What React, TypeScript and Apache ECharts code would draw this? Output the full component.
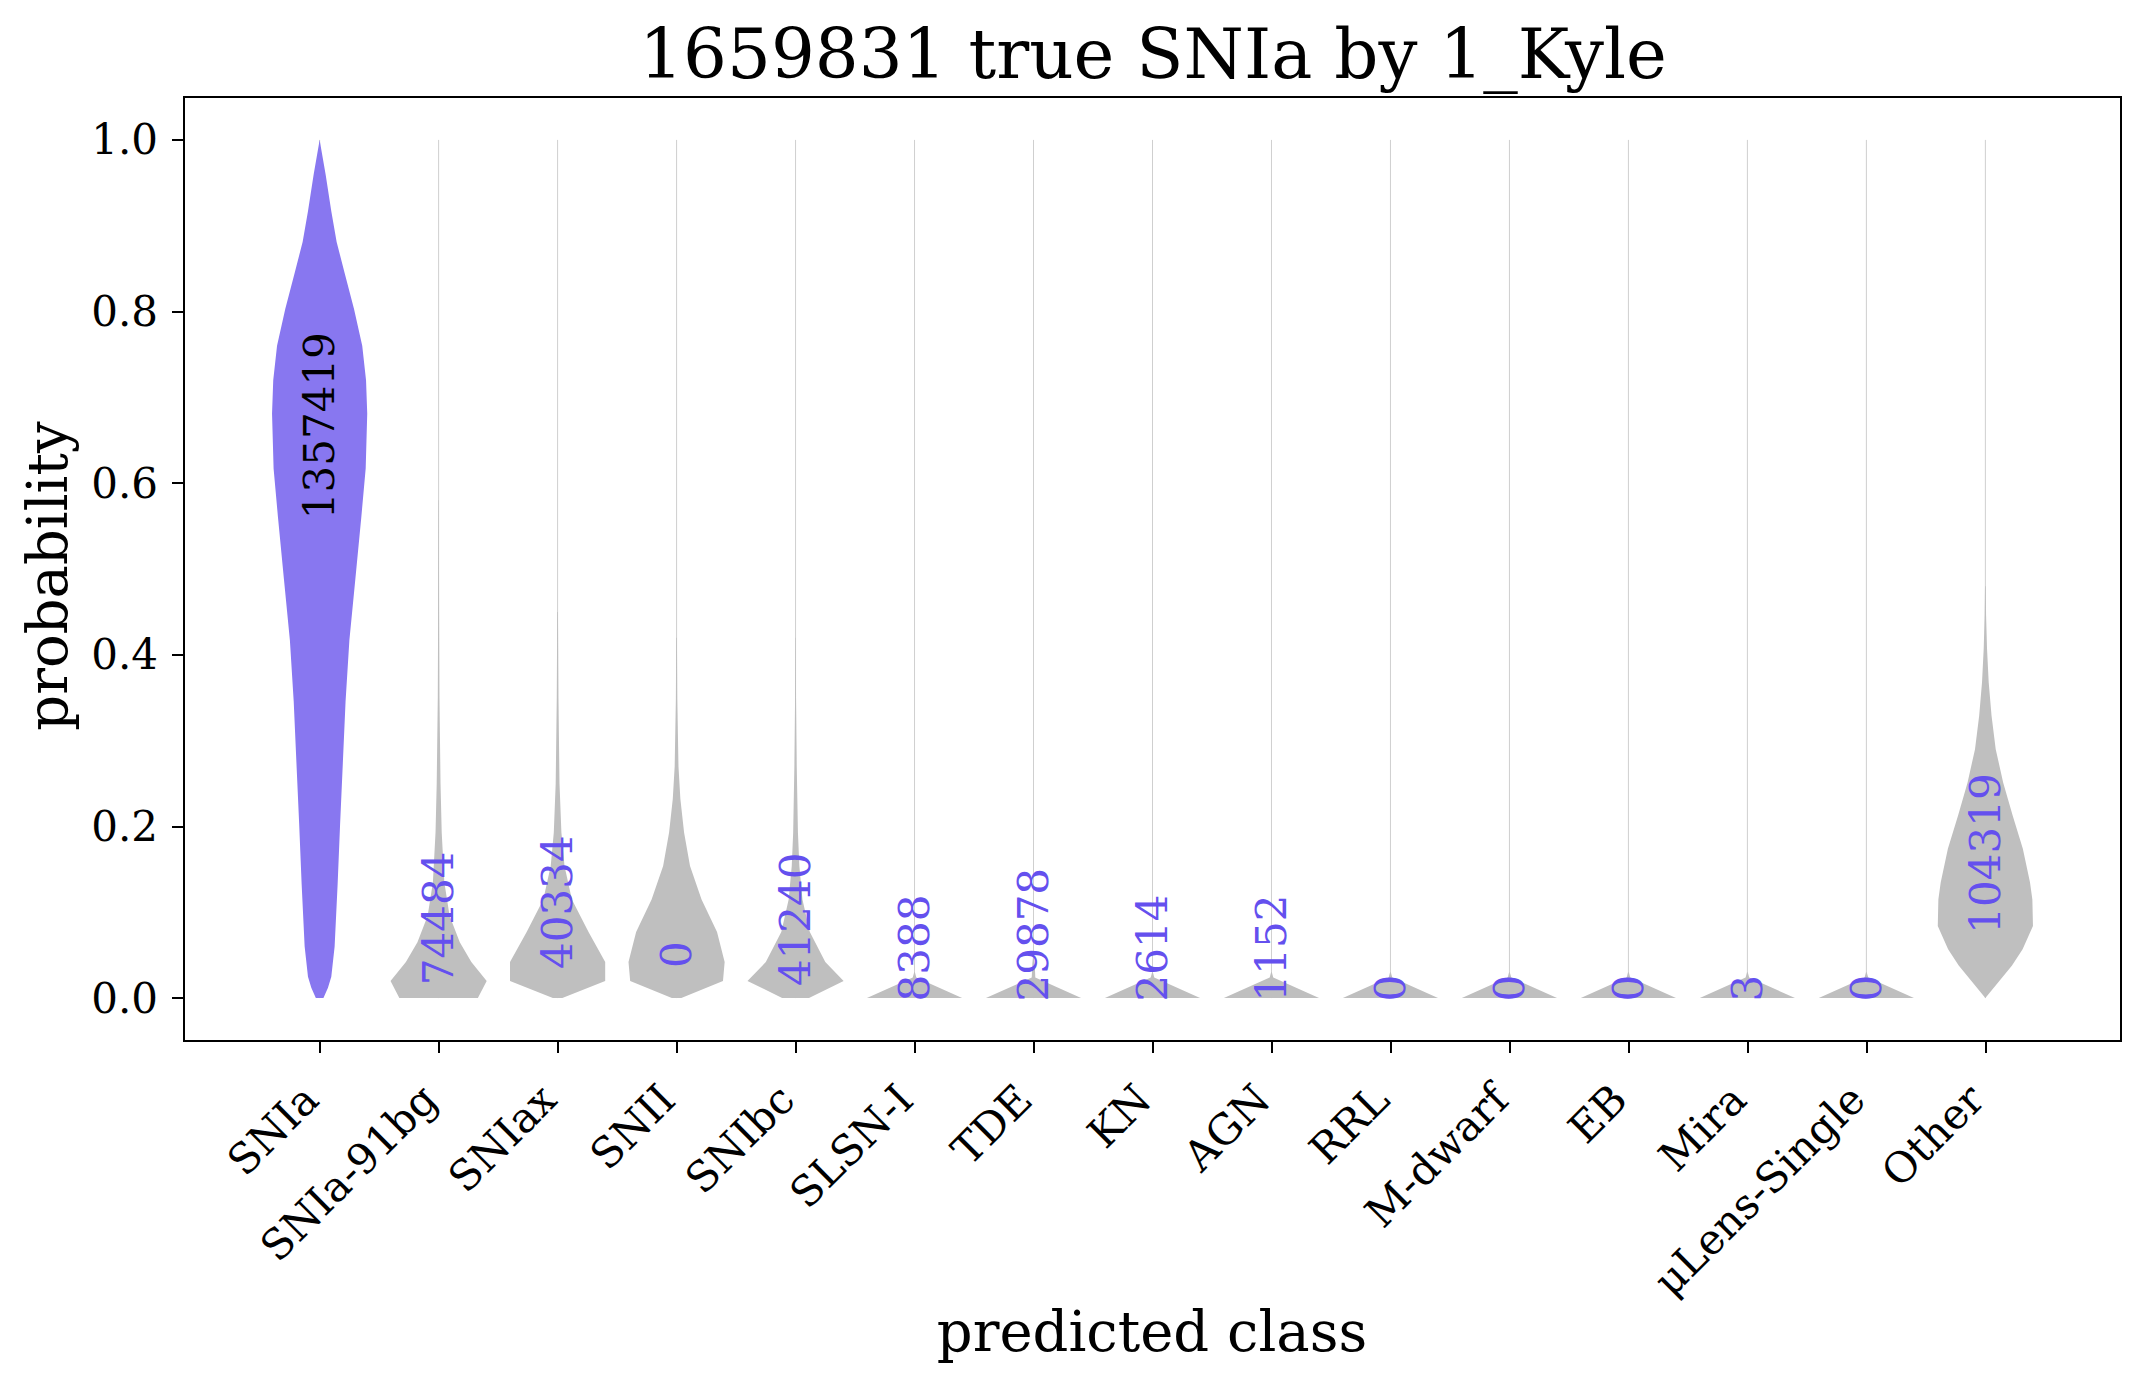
import React, { useEffect, useRef } from "react";
import * as echarts from "echarts";

// ---- data ----
const categories = [
  "SNIa", "SNIa-91bg", "SNIax", "SNII", "SNIbc", "SLSN-I", "TDE", "KN",
  "AGN", "RRL", "M-dwarf", "EB", "Mira", "μLens-Single", "Other",
];
const counts = [1357419, 74484, 40334, 0, 41240, 8388, 29878, 2614, 1152, 0, 0, 0, 3, 0, 104319];
// probability at which each count label starts (text runs upward)
const labelStart = [0.558, 0.015, 0.034, 0.035, 0.014, -0.004, -0.004, -0.004, -0.004, -0.004, -0.004, -0.004, -0.004, -0.004, 0.075];
const yTicks = [0, 0.2, 0.4, 0.6, 0.8, 1.0];
const trueClassIndex = 0;

// violin half-widths (in category units) at probability levels: [probability, halfWidth]
const violinSNIa = [
  [0, 0.032], [0.012, 0.07], [0.025, 0.098], [0.06, 0.126], [0.132, 0.151], [0.203, 0.172],
  [0.274, 0.195], [0.346, 0.218], [0.417, 0.25], [0.488, 0.3], [0.56, 0.35], [0.617, 0.387],
  [0.681, 0.4], [0.72, 0.39], [0.76, 0.358], [0.803, 0.289], [0.845, 0.21], [0.881, 0.143],
  [0.917, 0.098], [0.96, 0.05], [1.0, 0],
];
const violin91bg = [
  [0, 0.33], [0.02, 0.404], [0.042, 0.275], [0.065, 0.178], [0.096, 0.092], [0.135, 0.048],
  [0.193, 0.026], [0.25, 0.016], [0.35, 0.007], [0.45, 0.004], [0.58, 0.002],
];
const violinSNIax = [
  [0, 0.04], [0.02, 0.4], [0.042, 0.4], [0.077, 0.26], [0.115, 0.12], [0.154, 0.058],
  [0.193, 0.032], [0.25, 0.016], [0.35, 0.007], [0.45, 0.003],
];
const violinSNII = [
  [0, 0.04], [0.02, 0.39], [0.042, 0.404], [0.077, 0.34], [0.115, 0.21], [0.154, 0.113],
  [0.193, 0.063], [0.232, 0.032], [0.27, 0.016], [0.348, 0.006], [0.42, 0.003],
];
const violinSNIbc = [
  [0, 0.113], [0.02, 0.404], [0.042, 0.25], [0.077, 0.12], [0.115, 0.058], [0.154, 0.032],
  [0.193, 0.02], [0.27, 0.01], [0.35, 0.004], [0.42, 0.002],
];
const violinTiny = [[0, 0.4], [0.024, 0.015], [0.03, 0.003]];
const violinTDE = [[0, 0.4], [0.024, 0.015], [0.04, 0.01], [0.05, 0.003]];
const violinOther = [
  [0, 0], [0.038, 0.224], [0.057, 0.313], [0.084, 0.4], [0.115, 0.395], [0.135, 0.375],
  [0.174, 0.315], [0.2125, 0.23], [0.251, 0.15], [0.29, 0.087], [0.329, 0.052], [0.368, 0.028],
  [0.407, 0.014], [0.446, 0.006], [0.48, 0.003],
];
const violins = [
  violinSNIa, violin91bg, violinSNIax, violinSNII, violinSNIbc, violinTiny, violinTDE,
  violinTiny, violinTiny, violinTiny, violinTiny, violinTiny, violinTiny, violinTiny, violinOther,
];

// ---- styles ----
const FONT = '"DejaVu Serif", "Liberation Serif", serif';
const trueColor = "#8877f0";
const otherColor = "#bfbfbf";
const countColor = "#6450ee";
const tailColor = "#cfcfcf";

export default function App() {
  const ref = useRef<HTMLDivElement>(null);

  useEffect(() => {
    document.body.style.margin = "0";
    const chart = echarts.init(ref.current!, undefined, { renderer: "svg" });
    const idx = categories.map((_, i) => [i, 0]);

    chart.setOption({
      animation: false,
      backgroundColor: "#ffffff",
      grid: {
        left: 184,
        right: 25,
        top: 97,
        bottom: 345,
        show: true,
        borderColor: "#000",
        borderWidth: 2,
        backgroundColor: "transparent",
        outerBoundsMode: "none",
      },
      xAxis: {
        type: "value",
        min: -1.14,
        max: 15.14,
        axisLine: { show: false, onZero: false },
        splitLine: { show: false },
        axisLabel: { show: false },
        axisTick: {
          show: true,
          customValues: categories.map((_, i) => i),
          length: 12,
          lineStyle: { color: "#000", width: 2 },
        },
      },
      yAxis: {
        type: "value",
        min: -0.05,
        max: 1.05,
        axisLine: { show: false, onZero: false },
        splitLine: { show: false },
        axisTick: {
          show: true,
          customValues: yTicks,
          length: 12,
          lineStyle: { color: "#000", width: 2 },
        },
        axisLabel: {
          customValues: yTicks,
          formatter: (v: number) => v.toFixed(1),
          fontFamily: FONT,
          fontSize: 42,
          color: "#000",
          margin: 26,
        },
      },
      graphic: [
        {
          type: "text",
          x: 1153,
          y: 54,
          style: {
            text: "1659831 true SNIa by 1_Kyle",
            font: `69px ${FONT}`,
            fill: "#000",
            align: "center",
            verticalAlign: "middle",
            textAlign: "center",
            textVerticalAlign: "middle",
          },
        },
        {
          type: "text",
          x: 1152,
          y: 1331,
          style: {
            text: "predicted class",
            font: `56px ${FONT}`,
            fill: "#000",
            align: "center",
            verticalAlign: "middle",
            textAlign: "center",
            textVerticalAlign: "middle",
          },
        },
        {
          type: "text",
          x: 47,
          y: 576,
          rotation: Math.PI / 2,
          style: {
            text: "probability",
            font: `56px ${FONT}`,
            fill: "#000",
            align: "center",
            verticalAlign: "middle",
            textAlign: "center",
            textVerticalAlign: "middle",
          },
        },
      ],
      series: [
        {
          type: "custom",
          name: "violins",
          data: idx,
          clip: false,
          renderItem: (params: any, api: any) => {
            const i = api.value(0);
            const prof = violins[i];
            const right = prof.map(([p, w]) => api.coord([i + w, p]));
            const left = prof
              .slice()
              .reverse()
              .map(([p, w]) => api.coord([i - w, p]));
            const base = api.coord([i, 0]);
            const top = api.coord([i, 1]);
            return {
              type: "group",
              children: [
                {
                  type: "line",
                  shape: { x1: base[0], y1: base[1], x2: top[0], y2: top[1] },
                  style: { stroke: tailColor, lineWidth: 1 },
                },
                {
                  type: "polygon",
                  shape: { points: right.concat(left) },
                  style: { fill: i === trueClassIndex ? trueColor : otherColor },
                },
              ],
            };
          },
        },
        {
          type: "custom",
          name: "counts",
          data: idx,
          clip: false,
          z: 5,
          renderItem: (params: any, api: any) => {
            const i = api.value(0);
            const pt = api.coord([i, labelStart[i]]);
            return {
              type: "text",
              x: pt[0],
              y: pt[1],
              rotation: Math.PI / 2,
              style: {
                text: String(counts[i]),
                font: `42px ${FONT}`,
                fill: i === trueClassIndex ? "#000" : countColor,
                align: "left",
                verticalAlign: "middle",
                textAlign: "left",
                textVerticalAlign: "middle",
              },
            };
          },
        },
        {
          type: "custom",
          name: "classLabels",
          data: idx,
          clip: false,
          renderItem: (params: any, api: any) => {
            const i = api.value(0);
            const pt = api.coord([i, -0.05]);
            return {
              type: "text",
              x: pt[0] - 9,
              y: pt[1] + 51,
              rotation: Math.PI / 4,
              style: {
                text: categories[i],
                font: `42px ${FONT}`,
                fill: "#000",
                align: "right",
                verticalAlign: "middle",
                textAlign: "right",
                textVerticalAlign: "middle",
              },
            };
          },
        },
      ],
    });

    return () => chart.dispose();
  }, []);

  return <div ref={ref} style={{ width: 2146, height: 1386 }} />;
}
